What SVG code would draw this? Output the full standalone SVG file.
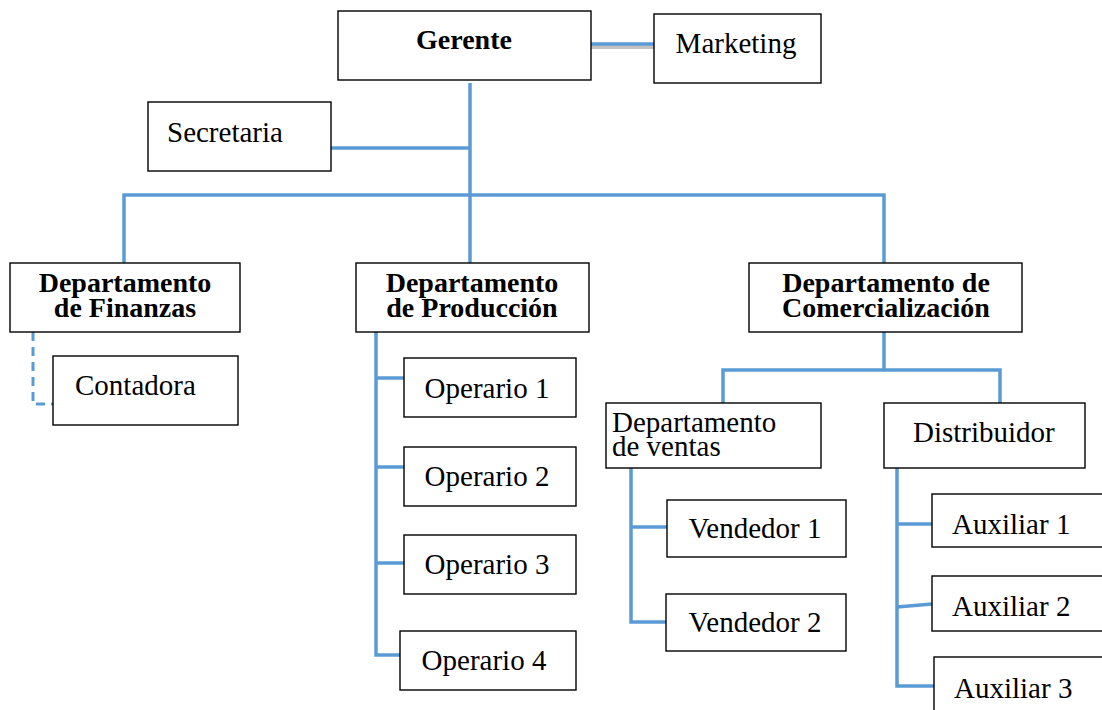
<svg xmlns="http://www.w3.org/2000/svg" width="1102" height="710" viewBox="0 0 1102 710">
<style>
.box{fill:#fff;stroke:#000;stroke-width:1.4}
.ln{fill:none;stroke:#5b9bd5;stroke-width:3.5}
.dash{fill:none;stroke:#5b9bd5;stroke-width:3;stroke-dasharray:9 6}
.t{font-family:"Liberation Serif","Times New Roman",serif;font-size:29px;fill:#000}
.b{font-weight:bold;text-anchor:middle;font-size:28px}
.m{text-anchor:middle}
</style>
<rect width="1102" height="710" fill="#fff"/>
<g id="connectors">
<line x1="591" y1="47" x2="654" y2="47" stroke="#9a9a9a" stroke-width="4" opacity="0.6"/>
<line class="ln" x1="591" y1="44" x2="654" y2="44" stroke-width="4.5"/>
<path class="ln" d="M470 83 V195"/>
<path class="ln" d="M331 148 H470"/>
<path class="ln" d="M124 263 V195 H884 V263"/>
<path class="ln" d="M470 195 V263"/>
<path class="dash" d="M33 332 V404 H53"/>
<path class="ln" d="M376 332 V655 H400"/>
<path class="ln" d="M376 378 H404 M376 467 H404 M376 563 H404"/>
<path class="ln" d="M884 332 V370"/>
<path class="ln" d="M723 403 V370 H1000 V403"/>
<path class="ln" d="M631 468 V622 H666"/>
<path class="ln" d="M631 527 H667"/>
<path class="ln" d="M897 468 V686 H934"/>
<path class="ln" d="M897 524 H932 M897 607 L932 604"/>
</g>
<g id="gerente"><rect class="box" x="338" y="11" width="253" height="69"/><text class="t b" x="464" y="49">Gerente</text></g>
<g id="marketing"><rect class="box" x="654" y="14" width="167" height="69"/><text class="t m" x="736" y="53">Marketing</text></g>
<g id="secretaria"><rect class="box" x="148" y="102" width="183" height="69"/><text class="t" x="167" y="142">Secretaria</text></g>
<g id="finanzas"><rect class="box" x="10" y="263" width="230" height="69"/><text class="t b" x="125" y="292">Departamento</text><text class="t b" x="125" y="317">de Finanzas</text></g>
<g id="produccion"><rect class="box" x="356" y="263" width="233" height="69"/><text class="t b" x="472" y="292">Departamento</text><text class="t b" x="472" y="317">de Producción</text></g>
<g id="comercializacion"><rect class="box" x="749" y="263" width="273" height="69"/><text class="t b" x="886" y="292">Departamento de</text><text class="t b" x="886" y="317">Comercialización</text></g>
<g id="contadora"><rect class="box" x="53" y="356" width="185" height="69"/><text class="t" x="75" y="395">Contadora</text></g>
<g id="operario1"><rect class="box" x="404" y="358" width="172" height="59"/><text class="t m" x="487" y="398">Operario 1</text></g>
<g id="operario2"><rect class="box" x="404" y="447" width="172" height="59"/><text class="t m" x="487" y="486">Operario 2</text></g>
<g id="operario3"><rect class="box" x="404" y="535" width="172" height="59"/><text class="t m" x="487" y="574">Operario 3</text></g>
<g id="operario4"><rect class="box" x="400" y="631" width="176" height="59"/><text class="t m" x="484" y="670">Operario 4</text></g>
<g id="ventas"><rect class="box" x="606" y="403" width="215" height="65"/><text class="t" x="612" y="432">Departamento</text><text class="t" x="612" y="456">de ventas</text></g>
<g id="distribuidor"><rect class="box" x="884" y="403" width="201" height="65"/><text class="t" x="913" y="442">Distribuidor</text></g>
<g id="vendedor1"><rect class="box" x="667" y="500" width="179" height="57"/><text class="t m" x="755" y="538">Vendedor 1</text></g>
<g id="vendedor2"><rect class="box" x="666" y="594" width="180" height="57"/><text class="t m" x="755" y="632">Vendedor 2</text></g>
<g id="auxiliar1"><rect class="box" x="932" y="494" width="180" height="53"/><text class="t" x="952" y="534">Auxiliar 1</text></g>
<g id="auxiliar2"><rect class="box" x="932" y="576" width="180" height="55"/><text class="t" x="952" y="616">Auxiliar 2</text></g>
<g id="auxiliar3"><rect class="box" x="934" y="657" width="180" height="60"/><text class="t" x="954" y="698">Auxiliar 3</text></g>
</svg>
